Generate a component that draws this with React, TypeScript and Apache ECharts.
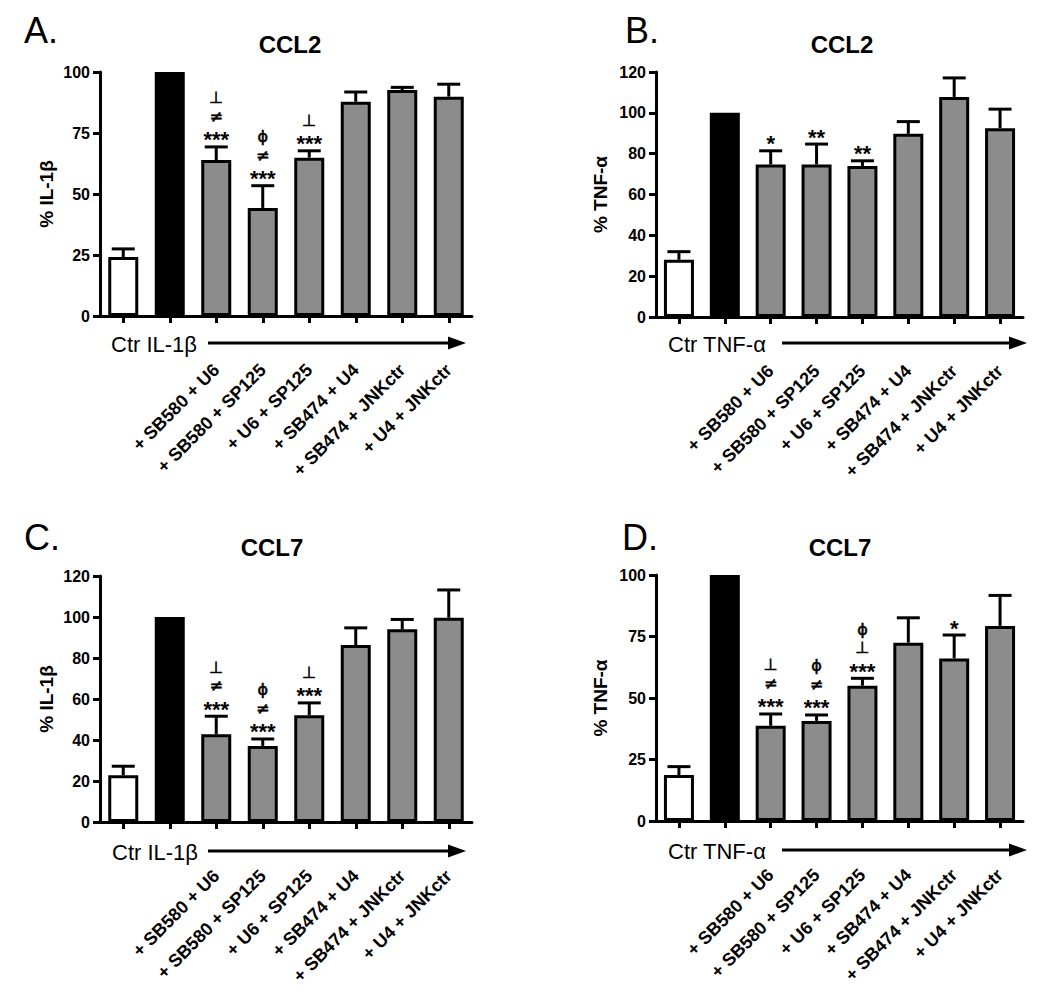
import React, { useEffect, useRef } from "react";
import * as echarts from "echarts";

const treatments = [
  "+ SB580 + U6",
  "+ SB580 + SP125",
  "+ U6 + SP125",
  "+ SB474 + U4",
  "+ SB474 + JNKctr",
  "+ U4 + JNKctr",
];
const categoriesIL = ["Ctr", "IL-1β", ...treatments];
const categoriesTNF = ["Ctr", "TNF-α", ...treatments];

const valuesA = [24.2, 100, 63.9, 44.3, 64.9, 87.8, 92.6, 89.9];
const errorsA = [3.3, 0, 5.4, 9.1, 2.8, 4.0, 1.1, 5.1];
const marksA = ["", "", "⊥ ≠ ***", "ϕ ≠ ***", "⊥ ***", "", "", ""];

const valuesB = [28.0, 100, 74.7, 74.7, 73.9, 89.7, 107.8, 92.5];
const errorsB = [4.0, 0, 6.7, 10.0, 2.6, 6.0, 9.3, 9.3];
const marksB = ["", "", "*", "**", "**", "", "", ""];

const valuesC = [22.8, 100, 42.8, 37.1, 52.1, 86.3, 94.0, 99.6];
const errorsC = [4.4, 0, 8.8, 3.4, 6.0, 8.4, 4.8, 13.6];
const marksC = ["", "", "⊥ ≠ ***", "ϕ ≠ ***", "⊥ ***", "", "", ""];

const valuesD = [18.7, 100, 38.7, 40.7, 55.0, 72.5, 66.1, 79.3];
const errorsD = [3.4, 0, 4.8, 2.4, 3.0, 10.1, 9.5, 12.4];
const marksD = ["", "", "⊥ ≠ ***", "ϕ ≠ ***", "ϕ ⊥ ***", "", "*", ""];

const panelLetters = ["A.", "B.", "C.", "D."];
const panelTitles = ["CCL2", "CCL2", "CCL7", "CCL7"];
const yNames = ["% IL-1β", "% TNF-α", "% IL-1β", "% TNF-α"];
const yMaxes = [100, 120, 120, 100];
const yIntervals = [25, 20, 20, 25];

const FONT = "'Liberation Sans', Arial, Helvetica, sans-serif";
const SYMFONT = "'DejaVu Sans', 'Liberation Sans', sans-serif";
const GRAY = "#8c8c8c";

type Panel = {
  cats: string[];
  values: number[];
  errors: number[];
  marks: string[];
  grid: { left: number; top: number; width: number; height: number };
  letter: { x: number; y: number };
  title: { x: number; y: number };
  caption: { x: number; y: number; arrowStart: number; arrowEnd: number };
  nameGap: number;
};

const panels: Panel[] = [
  {
    cats: categoriesIL,
    values: valuesA,
    errors: errorsA,
    marks: marksA,
    grid: { left: 100, top: 72, width: 372, height: 244 },
    letter: { x: 24, y: 30 },
    title: { x: 290, y: 44 },
    caption: { x: 111, y: 344, arrowStart: 208, arrowEnd: 466 },
    nameGap: 44,
  },
  {
    cats: categoriesTNF,
    values: valuesB,
    errors: errorsB,
    marks: marksB,
    grid: { left: 656, top: 72, width: 367, height: 245 },
    letter: { x: 625, y: 30 },
    title: { x: 842, y: 44 },
    caption: { x: 668, y: 344, arrowStart: 782, arrowEnd: 1027 },
    nameGap: 46,
  },
  {
    cats: categoriesIL,
    values: valuesC,
    errors: errorsC,
    marks: marksC,
    grid: { left: 100, top: 576, width: 372, height: 246 },
    letter: { x: 24, y: 537 },
    title: { x: 272, y: 547 },
    caption: { x: 112, y: 852, arrowStart: 208, arrowEnd: 466 },
    nameGap: 44,
  },
  {
    cats: categoriesTNF,
    values: valuesD,
    errors: errorsD,
    marks: marksD,
    grid: { left: 656, top: 575, width: 367, height: 246 },
    letter: { x: 622, y: 537 },
    title: { x: 840, y: 547 },
    caption: { x: 668, y: 851, arrowStart: 782, arrowEnd: 1027 },
    nameGap: 46,
  },
];

function buildOption() {
  const grid: any[] = [];
  const xAxis: any[] = [];
  const yAxis: any[] = [];
  const series: any[] = [];
  const graphic: any[] = [];

  panels.forEach((p, k) => {
    grid.push({ ...p.grid, containLabel: false });
    xAxis.push({
      type: "category",
      gridIndex: k,
      data: p.cats,
      axisLine: { show: true, lineStyle: { color: "#000", width: 3 } },
      axisTick: {
        show: true,
        alignWithLabel: true,
        length: 7,
        lineStyle: { color: "#000", width: 3 },
      },
      axisLabel: {
        interval: 0,
        rotate: 45,
        margin: 51,
        color: "#000",
        fontFamily: FONT,
        fontWeight: "bold",
        fontSize: 18,
        hideOverlap: false,
        formatter: (v: string, i: number) => (i < 2 ? "" : v),
      },
      splitLine: { show: false },
    });
    yAxis.push({
      type: "value",
      gridIndex: k,
      min: 0,
      max: yMaxes[k],
      interval: yIntervals[k],
      name: yNames[k],
      nameLocation: "middle",
      nameGap: p.nameGap,
      nameTextStyle: {
        color: "#000",
        fontFamily: FONT,
        fontWeight: "bold",
        fontSize: 19,
      },
      axisLine: { show: true, lineStyle: { color: "#000", width: 3 } },
      axisTick: { show: true, length: 7, lineStyle: { color: "#000", width: 3 } },
      axisLabel: {
        color: "#000",
        fontFamily: FONT,
        fontWeight: "bold",
        fontSize: 16,
        margin: 10,
      },
      splitLine: { show: false },
    });

    const fills = p.values.map((_, i) => (i === 0 ? "#ffffff" : i === 1 ? "#000000" : GRAY));
    series.push({
      type: "bar",
      xAxisIndex: k,
      yAxisIndex: k,
      barWidth: 30,
      data: p.values.map((v, i) => ({
        value: v,
        itemStyle: { color: fills[i], borderColor: "#000", borderWidth: 3 },
      })),
      z: 2,
    });

    const marks = p.marks;
    series.push({
      type: "custom",
      xAxisIndex: k,
      yAxisIndex: k,
      z: 3,
      clip: false,
      data: p.values.map((v, i) => [i, v, p.errors[i]]),
      renderItem: (params: any, api: any) => {
        const i = api.value(0);
        const v = api.value(1);
        const e = api.value(2);
        const base = api.coord([i, v]);
        const top = api.coord([i, v + e]);
        const children: any[] = [];
        if (e > 0) {
          children.push({
            type: "line",
            shape: { x1: base[0], y1: base[1], x2: top[0], y2: top[1] },
            style: { stroke: "#000", lineWidth: 3 },
          });
          children.push({
            type: "line",
            shape: { x1: top[0] - 11.5, y1: top[1], x2: top[0] + 11.5, y2: top[1] },
            style: { stroke: "#000", lineWidth: 3 },
          });
        }
        const m = marks[params.dataIndex];
        if (m) {
          const lines = m.split(" ").reverse();
          lines.forEach((t: string, idx: number) => {
            const star = t.charAt(0) === "*";
            const yy = idx === 0 ? top[1] - 7 : top[1] - 12 - 18.5 * idx;
            const style: any = {
              text: t,
              fill: "#000",
              font: star ? `bold 22px ${FONT}` : `16px ${SYMFONT}`,
              align: "center",
              verticalAlign: "middle",
              textAlign: "center",
              textVerticalAlign: "middle",
            };
            if (!star) {
              style.stroke = "#000";
              style.lineWidth = 0.6;
            }
            children.push({ type: "text", x: top[0], y: yy, style });
          });
        }
        return { type: "group", children };
      },
    });

    graphic.push({
      type: "text",
      x: p.letter.x,
      y: p.letter.y,
      style: {
        text: panelLetters[k],
        fill: "#000",
        font: `36px ${FONT}`,
        align: "left",
        verticalAlign: "middle",
        textAlign: "left",
        textVerticalAlign: "middle",
      },
    });
    graphic.push({
      type: "text",
      x: p.title.x,
      y: p.title.y,
      style: {
        text: panelTitles[k],
        fill: "#000",
        font: `bold 24px ${FONT}`,
        align: "center",
        verticalAlign: "middle",
        textAlign: "center",
        textVerticalAlign: "middle",
      },
    });
    graphic.push({
      type: "text",
      x: p.caption.x,
      y: p.caption.y,
      style: {
        text: `${p.cats[0]} ${p.cats[1]}`,
        fill: "#000",
        font: `22px ${FONT}`,
        align: "left",
        verticalAlign: "middle",
        textAlign: "left",
        textVerticalAlign: "middle",
      },
    });
    const ay = p.caption.y - 1;
    graphic.push({
      type: "line",
      shape: { x1: p.caption.arrowStart, y1: ay, x2: p.caption.arrowEnd - 14, y2: ay },
      style: { stroke: "#000", lineWidth: 3 },
    });
    graphic.push({
      type: "polygon",
      shape: {
        points: [
          [p.caption.arrowEnd - 18, ay - 6.5],
          [p.caption.arrowEnd, ay],
          [p.caption.arrowEnd - 18, ay + 6.5],
        ],
      },
      style: { fill: "#000" },
    });
  });

  return {
    animation: false,
    backgroundColor: "#ffffff",
    textStyle: { fontFamily: FONT },
    grid,
    xAxis,
    yAxis,
    series,
    graphic,
  };
}

export default function App() {
  const ref = useRef<HTMLDivElement>(null);
  useEffect(() => {
    document.body.style.margin = "0";
    if (!ref.current) return;
    const chart = echarts.init(ref.current, undefined, { renderer: "svg" });
    chart.setOption(buildOption() as any);
    return () => chart.dispose();
  }, []);
  return <div ref={ref} style={{ width: 1050, height: 994 }} />;
}
